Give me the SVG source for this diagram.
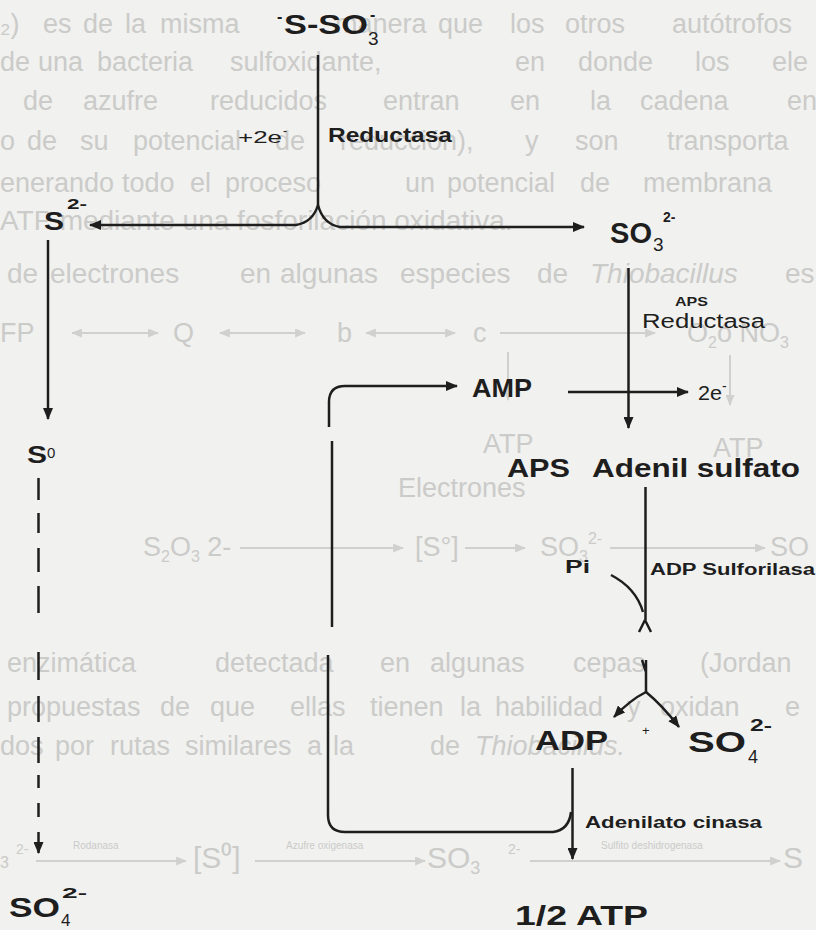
<svg xmlns="http://www.w3.org/2000/svg" width="816" height="930" viewBox="0 0 816 930">
<style>
.g{fill:#cbcbc9;font-family:"Liberation Sans",Arial,sans-serif;font-size:27px}
.gl{stroke:#d0d0ce;stroke-width:2;fill:none}
.t{fill:#1e1e1e;font-family:"Liberation Sans",Arial,sans-serif;font-weight:bold}
.n{fill:#1e1e1e;font-family:"Liberation Sans",Arial,sans-serif;font-weight:normal}
.ln{stroke:#1e1e1e;stroke-width:2.5;fill:none}
</style>
<defs>
<marker id="ah" viewBox="0 0 12 10" refX="11" refY="5" markerWidth="12" markerHeight="10" markerUnits="userSpaceOnUse" orient="auto"><path d="M0,0 L12,5 L0,10 z" fill="#1e1e1e"/></marker>
<marker id="gah" viewBox="0 0 12 10" refX="11" refY="5" markerWidth="11" markerHeight="9" markerUnits="userSpaceOnUse" orient="auto"><path d="M0,0 L12,5 L0,10 z" fill="#d0d0ce"/></marker>
<marker id="gas" viewBox="0 0 12 10" refX="1" refY="5" markerWidth="11" markerHeight="9" markerUnits="userSpaceOnUse" orient="auto"><path d="M12,0 L0,5 L12,10 z" fill="#d0d0ce"/></marker>
</defs>
<rect width="816" height="930" fill="#f1f1ef"/>

<g id="ghost">
<text class="g" y="33"><tspan x="0">₂)</tspan><tspan x="43">es</tspan><tspan x="83">de</tspan><tspan x="125">la</tspan><tspan x="160">misma</tspan><tspan x="335">manera</tspan><tspan x="438">que</tspan><tspan x="510">los</tspan><tspan x="565">otros</tspan><tspan x="672">autótrofos</tspan></text>
<text class="g" y="71"><tspan x="0">de</tspan><tspan x="38">una</tspan><tspan x="97">bacteria</tspan><tspan x="230">sulfoxidante,</tspan><tspan x="515">en</tspan><tspan x="578">donde</tspan><tspan x="695">los</tspan><tspan x="772">ele</tspan></text>
<text class="g" y="110"><tspan x="23">de</tspan><tspan x="83">azufre</tspan><tspan x="210">reducidos</tspan><tspan x="383">entran</tspan><tspan x="510">en</tspan><tspan x="590">la</tspan><tspan x="640">cadena</tspan><tspan x="787">en</tspan></text>
<text class="g" y="150"><tspan x="0">o</tspan><tspan x="27">de</tspan><tspan x="80">su</tspan><tspan x="133">potencial</tspan><tspan x="275">de</tspan><tspan x="340">reducción),</tspan><tspan x="525">y</tspan><tspan x="575">son</tspan><tspan x="667">transporta</tspan></text>
<text class="g" y="192"><tspan x="0">enerando</tspan><tspan x="122">todo</tspan><tspan x="190">el</tspan><tspan x="225">proceso</tspan><tspan x="405">un</tspan><tspan x="447">potencial</tspan><tspan x="580">de</tspan><tspan x="643">membrana</tspan></text>
<text class="g" x="0" y="230" style="font-size:28px">ATP mediante una fosforilación oxidativa.</text>
<text class="g" y="283" style="font-size:28px"><tspan x="7">de</tspan><tspan x="50">electrones</tspan><tspan x="240">en</tspan><tspan x="280">algunas</tspan><tspan x="400">especies</tspan><tspan x="537">de</tspan><tspan x="590" font-style="italic">Thiobacillus</tspan><tspan x="785">es</tspan></text>
<text class="g" y="342"><tspan x="0">FP</tspan><tspan x="173">Q</tspan><tspan x="337">b</tspan><tspan x="473">c</tspan><tspan x="687">O</tspan><tspan font-size="16" dy="6">2</tspan><tspan dy="-6">ó NO</tspan><tspan font-size="16" dy="6">3</tspan></text>
<path class="gl" d="M72,333 H158" marker-start="url(#gas)" marker-end="url(#gah)"/>
<path class="gl" d="M220,333 H305" marker-start="url(#gas)" marker-end="url(#gah)"/>
<path class="gl" d="M366,333 H455" marker-start="url(#gas)" marker-end="url(#gah)"/>
<path class="gl" d="M500,333 H655" marker-end="url(#gah)"/>
<path class="gl" d="M508,352 V400" marker-end="url(#gah)"/>
<path class="gl" d="M730,355 V405" marker-end="url(#gah)"/>
<text class="g" x="483" y="453">ATP</text>
<text class="g" x="713" y="457">ATP</text>
<text class="g" x="398" y="497">Electrones</text>
<text class="g" y="556"><tspan x="143">S</tspan><tspan font-size="16" dy="6">2</tspan><tspan dy="-6">O</tspan><tspan font-size="16" dy="6">3</tspan><tspan dy="-6"> 2-</tspan><tspan x="415">[S°]</tspan><tspan x="540">SO</tspan><tspan font-size="16" dy="6">3</tspan><tspan font-size="16" dy="-18">2-</tspan><tspan x="770" dy="12">SO</tspan></text>
<path class="gl" d="M240,548 H403" marker-end="url(#gah)"/>
<path class="gl" d="M465,548 H525" marker-end="url(#gah)"/>
<path class="gl" d="M610,548 H765" marker-end="url(#gah)"/>
<text class="g" y="672"><tspan x="7">enzimática</tspan><tspan x="215">detectada</tspan><tspan x="380">en</tspan><tspan x="430">algunas</tspan><tspan x="573">cepas</tspan><tspan x="700">(Jordan</tspan></text>
<text class="g" y="716"><tspan x="7">propuestas</tspan><tspan x="160">de</tspan><tspan x="210">que</tspan><tspan x="290">ellas</tspan><tspan x="370">tienen</tspan><tspan x="460">la</tspan><tspan x="495">habilidad</tspan><tspan x="627">y</tspan><tspan x="660">oxidan</tspan><tspan x="785">e</tspan></text>
<text class="g" y="755"><tspan x="0">dos</tspan><tspan x="55">por</tspan><tspan x="110">rutas</tspan><tspan x="185">similares</tspan><tspan x="307">a</tspan><tspan x="333">la</tspan><tspan x="430">de</tspan><tspan x="475" font-style="italic">Thiobacillus.</tspan></text>
<text class="g" y="868" style="font-size:30px"><tspan x="0" font-size="16">3</tspan><tspan x="16" font-size="14" dy="-14">2-</tspan><tspan x="193" dy="14">[S⁰]</tspan><tspan x="427">SO</tspan><tspan font-size="18" dy="6">3</tspan><tspan x="508" font-size="14" dy="-20">2-</tspan><tspan x="783" dy="14">S</tspan></text>
<text class="g" x="73" y="849" style="font-size:10px">Rodanasa</text>
<text class="g" x="286" y="849" style="font-size:10px">Azufre oxigenasa</text>
<text class="g" x="601" y="849" style="font-size:10px">Sulfito deshidrogenasa</text>
<path class="gl" d="M36,861 H186" marker-end="url(#gah)"/>
<path class="gl" d="M255,861 H425" marker-end="url(#gah)"/>
<path class="gl" d="M530,861 H780" marker-end="url(#gah)"/>
</g>

<g id="connectors">
<path class="ln" d="M318,55 V205 Q313,222 296,225 H90" marker-end="url(#ah)"/>
<path class="ln" d="M318,205 Q323,224 340,227 H584" marker-end="url(#ah)"/>
<path class="ln" d="M48,240 V419" marker-end="url(#ah)"/>
<path class="ln" d="M38.5,478 V500 M38.5,513 V533 M38.5,548 V572 M38.5,586 V613 M38.5,652 V680 M38.5,696 V722 M38.5,737 V763 M38.5,775 V788 M38.5,803 V817"/>
<path class="ln" d="M38.5,832 V853" marker-end="url(#ah)"/>
<path class="ln" d="M329,427 V402 Q329,386 345,386 H457" marker-end="url(#ah)"/>
<path class="ln" d="M332,441 V627"/>
<path class="ln" d="M328,655 V815 Q328,832 345,832 H553 Q569,830 571,812"/>
<path class="ln" d="M568,392 H688" marker-end="url(#ah)"/>
<path class="ln" d="M628.5,268 V428" marker-end="url(#ah)"/>
<path class="ln" d="M645.5,487 V620 M645,620 L639,632 M645,620 L651,632"/>
<path class="ln" d="M611,575 Q636,588 643,612"/>
<path class="ln" d="M642,660 L646,672 M646,660 V693"/>
<path class="ln" d="M646,692 Q630,700 614,717" marker-end="url(#ah)"/>
<path class="ln" d="M646,692 Q662,705 679,727" marker-end="url(#ah)"/>
<path class="ln" d="M572.5,768 V859" marker-end="url(#ah)"/>
</g>

<g id="thiosulfate">
<text class="t" x="277" y="22" font-size="16">-<tspan x="284" dy="12" font-size="28" textLength="84" lengthAdjust="spacingAndGlyphs">S-SO</tspan><tspan x="368" dy="11" font-size="19" font-weight="normal">3</tspan><tspan x="370" dy="-25" font-size="16">-</tspan></text>
</g>
<g id="plus2e">
<text class="n" x="238" y="143" font-size="17"><tspan textLength="44" lengthAdjust="spacingAndGlyphs">+2e</tspan><tspan x="283" dy="-8" font-size="12">-</tspan></text>
</g>
<g id="reductasa">
<text class="t" x="328" y="142" font-size="21" textLength="124" lengthAdjust="spacingAndGlyphs">Reductasa</text>
</g>
<g id="sulfide">
<text class="t" x="44" y="230" font-size="25"><tspan textLength="20" lengthAdjust="spacingAndGlyphs">S</tspan><tspan x="67" dy="-21" font-size="14" textLength="20" lengthAdjust="spacingAndGlyphs">2-</tspan></text>
</g>
<g id="sulfite">
<text class="t" x="610" y="243" font-size="29"><tspan textLength="42" lengthAdjust="spacingAndGlyphs">SO</tspan><tspan x="653" dy="8" font-size="19" font-weight="normal">3</tspan><tspan x="663" dy="-29" font-size="14">2-</tspan></text>
</g>
<g id="s0">
<text class="t" x="27" y="463" font-size="23"><tspan textLength="20" lengthAdjust="spacingAndGlyphs">S</tspan><tspan x="47" dy="-5" font-size="15" font-weight="normal">0</tspan></text>
</g>
<g id="sulfate-left">
<text class="t" x="9" y="917" font-size="28"><tspan textLength="51" lengthAdjust="spacingAndGlyphs">SO</tspan><tspan x="61" dy="9" font-size="17" font-weight="normal">4</tspan><tspan x="62" dy="-28" font-size="14" textLength="25" lengthAdjust="spacingAndGlyphs">2-</tspan></text>
</g>
<g id="amp">
<text class="t" x="472" y="397" font-size="26" textLength="60" lengthAdjust="spacingAndGlyphs">AMP</text>
</g>
<g id="electrons">
<text class="n" x="698" y="400" font-size="20"><tspan textLength="24" lengthAdjust="spacingAndGlyphs">2e</tspan><tspan x="722" dy="-9" font-size="14">-</tspan></text>
</g>
<g id="aps-reductasa">
<text class="t" x="675" y="306" font-size="13" textLength="33" lengthAdjust="spacingAndGlyphs">APS</text>
<text class="n" x="642" y="328" font-size="20" textLength="123" lengthAdjust="spacingAndGlyphs">Reductasa</text>
</g>
<g id="aps">
<text class="t" x="507" y="477" font-size="26"><tspan textLength="63" lengthAdjust="spacingAndGlyphs">APS</tspan><tspan x="592" textLength="208" lengthAdjust="spacingAndGlyphs">Adenil sulfato</tspan></text>
</g>
<g id="pi">
<text class="t" x="565" y="573" font-size="18" textLength="25" lengthAdjust="spacingAndGlyphs">Pi</text>
</g>
<g id="adp-sulforilasa">
<text class="t" x="650" y="575" font-size="16" textLength="165" lengthAdjust="spacingAndGlyphs">ADP Sulforilasa</text>
</g>
<g id="adp">
<text class="t" x="535" y="750" font-size="28"><tspan textLength="73" lengthAdjust="spacingAndGlyphs">ADP</tspan><tspan x="642" dy="-15" font-size="13" font-weight="normal">+</tspan></text>
</g>
<g id="sulfate-right">
<text class="t" x="688" y="752" font-size="29"><tspan textLength="58" lengthAdjust="spacingAndGlyphs">SO</tspan><tspan x="748" dy="11" font-size="18" font-weight="normal">4</tspan><tspan x="750" dy="-32" font-size="16" textLength="22" lengthAdjust="spacingAndGlyphs">2-</tspan></text>
</g>
<g id="adenilato-cinasa">
<text class="t" x="585" y="828" font-size="16" textLength="177" lengthAdjust="spacingAndGlyphs">Adenilato cinasa</text>
</g>
<g id="atp">
<text class="t" x="515" y="925" font-size="28" textLength="133" lengthAdjust="spacingAndGlyphs">1/2 ATP</text>
</g>
</svg>
